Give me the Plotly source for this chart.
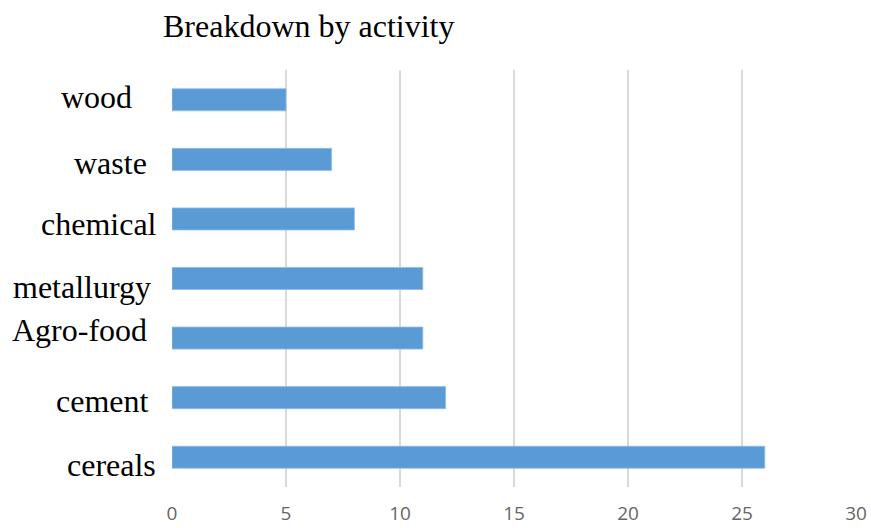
import plotly.graph_objects as go

# Data
categories = ["wood", "waste", "chemical", "metallurgy", "Agro-food", "cement", "cereals"]
values = [5, 7, 8, 11, 11, 12, 26]
x_ticks = [0, 5, 10, 15, 20, 25, 30]
title_text = "Breakdown by activity"

# Label placement (style only): pixel shifts for the category labels
label_xshift = [-38, -23, -13, -19, -23, -21, -14]
label_yshift = [3, -4, -5, -8, 8, -3, -8]

fig = go.Figure(
    go.Bar(
        x=values,
        y=categories,
        orientation="h",
        width=0.37,
        marker=dict(color="#5b9bd5", line=dict(color="#8fbde6", width=0.8)),
        hoverinfo="x+y",
    )
)

annotations = []
for cat, xs, ys in zip(categories, label_xshift, label_yshift):
    annotations.append(
        dict(
            text=cat,
            x=0,
            xref="paper",
            y=cat,
            yref="y",
            xanchor="right",
            yanchor="middle",
            xshift=xs,
            yshift=ys,
            showarrow=False,
            font=dict(family="Liberation Serif", size=32, color="#000000"),
        )
    )

fig.update_layout(
    width=871,
    height=528,
    margin=dict(l=172, r=15, t=70, b=41),
    paper_bgcolor="white",
    plot_bgcolor="white",
    showlegend=False,
    title=dict(
        text=title_text,
        x=163 / 871,
        xref="container",
        xanchor="left",
        y=1 - 26 / 528,
        yref="container",
        yanchor="middle",
        font=dict(family="Liberation Serif", size=32, color="#000000"),
        automargin=False,
    ),
    annotations=annotations,
    xaxis=dict(
        range=[0, 30],
        tickvals=x_ticks,
        ticktext=[str(t) for t in x_ticks],
        showgrid=True,
        gridcolor="#d9d9d9",
        gridwidth=1.5,
        zeroline=False,
        showline=False,
        ticks="",
        tickfont=dict(family="Open Sans", size=19, color="#666666"),
        ticklabelstandoff=13,
        automargin=False,
        fixedrange=True,
    ),
    yaxis=dict(
        categoryorder="array",
        categoryarray=categories,
        autorange="reversed",
        showticklabels=False,
        showgrid=False,
        zeroline=False,
        showline=False,
        ticks="",
        automargin=False,
        fixedrange=True,
    ),
)

fig.write_html("out.html")
